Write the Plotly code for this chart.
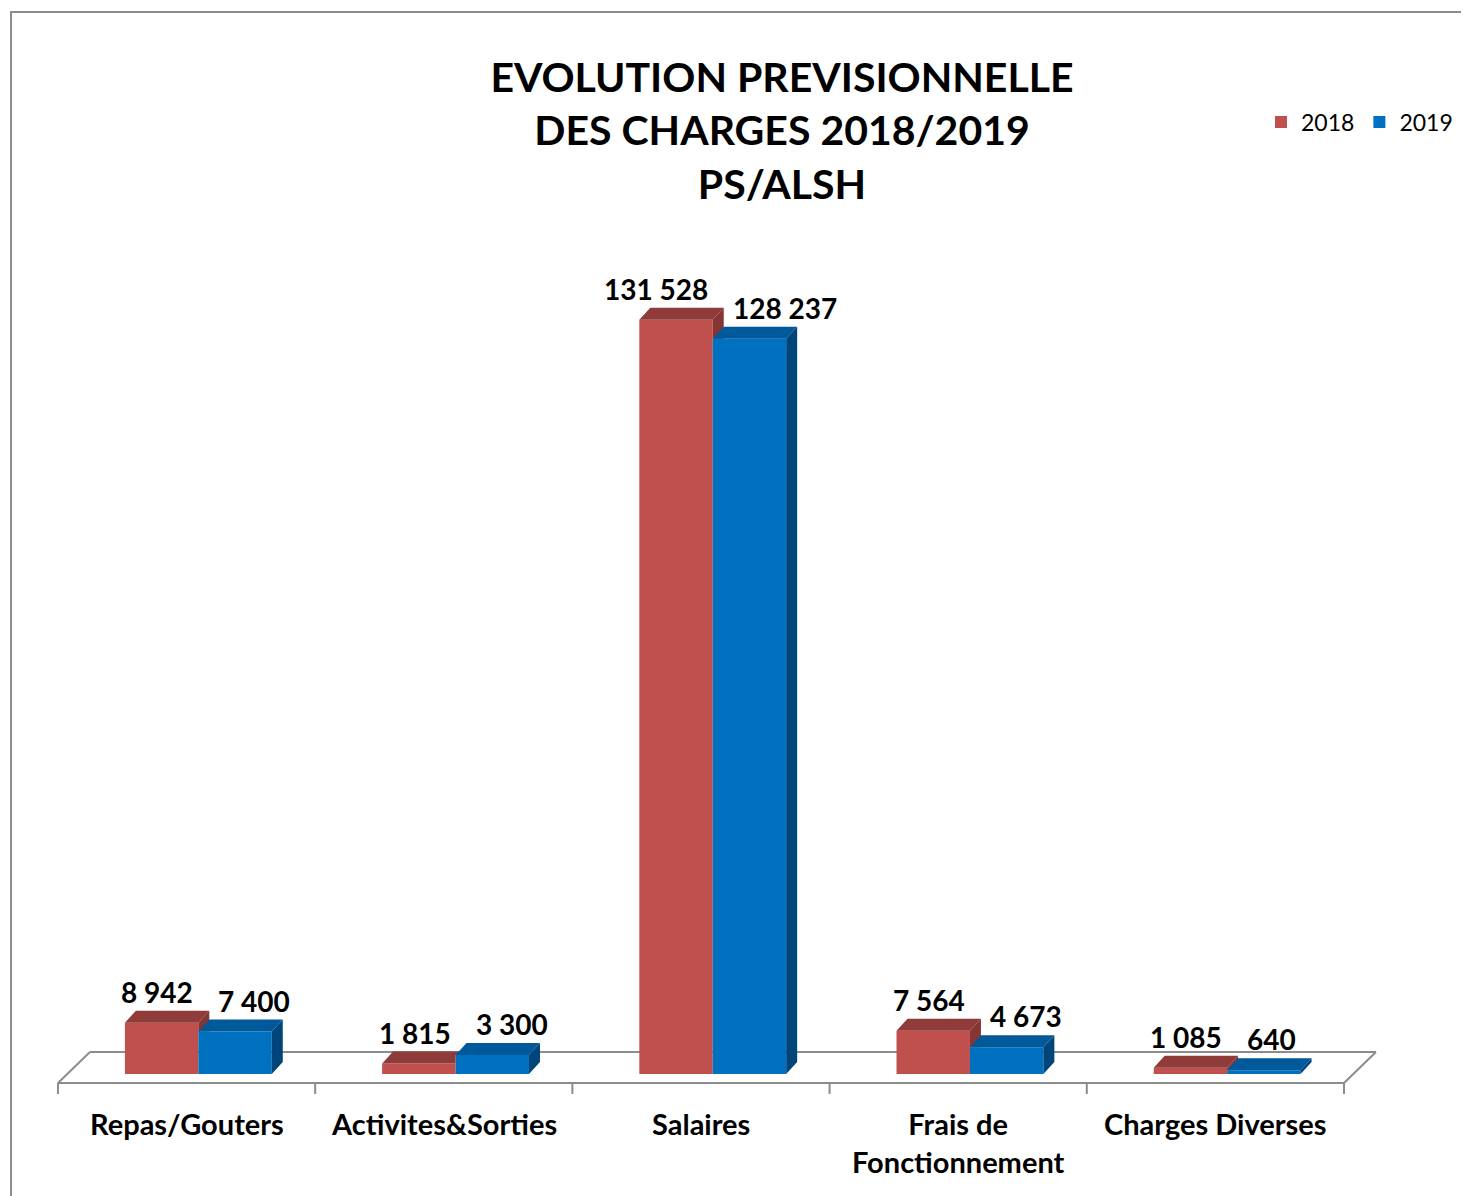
import plotly.graph_objects as go

# ---------------- data ----------------
categories = ["Repas/Gouters", "Activites&Sorties", "Salaires",
              "Frais de<br>Fonctionnement", "Charges Diverses"]
series_names = ["2018", "2019"]
values_2018 = [8942, 1815, 131528, 7564, 1085]
values_2019 = [7400, 3300, 128237, 4673, 640]
label_2018 = ["8 942", "1 815", "131 528", "7 564", "1 085"]
label_2019 = ["7 400", "3 300", "128 237", "4 673", "640"]
title_text = "EVOLUTION PREVISIONNELLE<br>DES CHARGES 2018/2019<br>PS/ALSH"

# ---------------- style / geometry ----------------
OFF = 8                                        # page body margin
W, H = 1469 - OFF, 1196 - OFF
PL, PR, PT, PB = 50, 1390, 240, 1100          # plot area in screen px
XR = [-0.531, 4.675]
YR = [-4535, 145450]
XU = (XR[1] - XR[0]) / (PR - PL)              # x units per px
YU = (YR[1] - YR[0]) / (PB - PT)              # y units per px

BAR_W = 0.2855
RED_OFF = -0.097
BLUE_OFF = 0.1885
DX = 11 * XU
DY = 12 * YU

RED, RED_TOP, RED_SIDE = "#C0504D", "#8F3B39", "#863533"
BLUE, BLUE_TOP, BLUE_SIDE = "#0070C0", "#00599B", "#00457A"
GRID = "#8C8C8C"
FONT = "Lato"

n = len(categories)
xs = list(range(n))


def clip(poly, axis, val, keep_greater):
    out = []
    m = len(poly)
    for i in range(m):
        p, q = poly[i], poly[(i + 1) % m]
        pin = (p[axis] >= val) if keep_greater else (p[axis] <= val)
        qin = (q[axis] >= val) if keep_greater else (q[axis] <= val)
        if pin:
            out.append(p)
        if pin != qin:
            t = (val - p[axis]) / (q[axis] - p[axis])
            out.append((p[0] + t * (q[0] - p[0]), p[1] + t * (q[1] - p[1])))
    return out


def add_poly(fig, polys, color):
    px, py = [], []
    for poly in polys:
        if len(poly) < 3:
            continue
        for (a, b) in poly:
            px.append(a)
            py.append(b)
        px.append(poly[0][0])
        py.append(poly[0][1])
        px.append(None)
        py.append(None)
    if px:
        fig.add_trace(go.Scatter(x=px, y=py, mode="lines", fill="toself",
                                 fillcolor=color, line=dict(width=0, color=color),
                                 hoverinfo="skip", showlegend=False))


fig = go.Figure()

red_x = [x + RED_OFF for x in xs]
blue_x = [x + BLUE_OFF for x in xs]

fig.add_trace(go.Bar(x=red_x, y=values_2018, width=BAR_W, name=series_names[0],
                     marker=dict(color=RED, line=dict(width=0))))
fig.add_trace(go.Bar(x=blue_x, y=values_2019, width=BAR_W, name=series_names[1],
                     marker=dict(color=BLUE, line=dict(width=0))))

annotations = []
for i in range(n):
    v, vb = values_2018[i], values_2019[i]
    x0 = red_x[i] - BAR_W / 2
    x1 = red_x[i] + BAR_W / 2
    x2 = blue_x[i] + BAR_W / 2
    # red faces, minus the part hidden by the blue front face
    red_top = [(x0, v), (x0 + DX, v + DY), (x1 + DX, v + DY), (x1, v)]
    red_side = [(x1, 0), (x1 + DX, DY), (x1 + DX, v + DY), (x1, v)]
    pieces_top = [clip(red_top, 0, x1, False), clip(red_top, 1, vb, True)]
    pieces_side = [clip(red_side, 1, vb, True)]
    add_poly(fig, pieces_top, RED_TOP)
    add_poly(fig, pieces_side, RED_SIDE)
    # blue faces
    add_poly(fig, [[(x1, vb), (x1 + DX, vb + DY), (x2 + DX, vb + DY), (x2, vb)]], BLUE_TOP)
    add_poly(fig, [[(x2, 0), (x2 + DX, DY), (x2 + DX, vb + DY), (x2, vb)]], BLUE_SIDE)

    annotations.append(dict(x=x1, y=v, xref="x", yref="y", text=label_2018[i],
                            showarrow=False, xanchor="right", yanchor="middle",
                            xshift=-3, yshift=31,
                            font=dict(family=FONT, size=28, color="black", weight="bold")))
    annotations.append(dict(x=x1, y=vb, xref="x", yref="y", text=label_2019[i],
                            showarrow=False, xanchor="left", yanchor="middle",
                            xshift=18, yshift=31,
                            font=dict(family=FONT, size=28, color="black", weight="bold")))
    annotations.append(dict(x=xs[i], y=0, xref="x", yref="paper", text=categories[i],
                            showarrow=False, xanchor="center", yanchor="top",
                            yshift=-4,
                            font=dict(family=FONT, size=29, color="black", weight="bold")))

# floor (3D base)
FY = -9 * YU
BY = 22 * YU
FX = 32 * XU
TICK = 11 * YU
shapes = []
lo, hi = -0.5, n - 0.5
seg = [((lo, FY), (hi, FY)), ((lo, FY), (lo + FX, BY)), ((lo + FX, BY), (hi + FX, BY)),
       ((hi, FY), (hi + FX, BY))]
for k in range(n + 1):
    seg.append(((lo + k, FY), (lo + k, FY - TICK)))
for (a, b) in seg:
    shapes.append(dict(type="line", xref="x", yref="y", x0=a[0], y0=a[1], x1=b[0], y1=b[1],
                       line=dict(color=GRID, width=2), layer="below"))

# outer chart border
bx = (11 - PL) / (PR - PL)
by = (PB - 12) / (PB - PT)
shapes.append(dict(type="path", xref="paper", yref="paper",
                   path=f"M {bx},-0.3 L {bx},{by} L 1.3,{by}",
                   line=dict(color=GRID, width=2)))

fig.update_layout(
    width=W, height=H,
    margin=dict(l=PL - OFF, r=W - (PR - OFF), t=PT - OFF, b=H - (PB - OFF)),
    paper_bgcolor="white", plot_bgcolor="white",
    barmode="overlay",
    xaxis=dict(range=XR, visible=False, fixedrange=True),
    yaxis=dict(range=YR, visible=False, fixedrange=True),
    title=dict(text=title_text, x=(782 - OFF) / W, xanchor="center",
               y=1 - (92 - OFF) / H, yanchor="middle",
               font=dict(family=FONT, size=41, color="black", weight="bold")),
    legend=dict(orientation="h", x=(1261 - PL) / (PR - PL), xanchor="left",
                y=(PB - 122) / (PB - PT), yanchor="middle",
                font=dict(family=FONT, size=23, color="black"),
                bgcolor="rgba(0,0,0,0)"),
    annotations=annotations,
    shapes=shapes,
    showlegend=True,
)

fig.write_html("out.html")
